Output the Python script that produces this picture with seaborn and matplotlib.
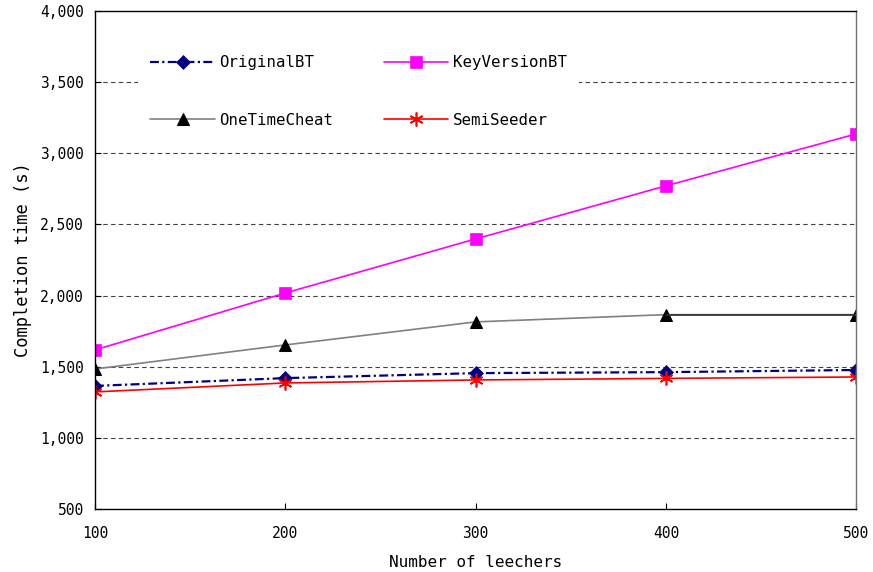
import numpy as np
import pandas as pd
import matplotlib as mpl
mpl.use("Agg")
import matplotlib.pyplot as plt
import seaborn as sns
from matplotlib.ticker import FuncFormatter

# data
leechers = [100, 200, 300, 400, 500]
original_bt = [1365, 1420, 1455, 1462, 1477]
key_version_bt = [1618, 2018, 2398, 2771, 3136]
one_time_cheat = [1484, 1653, 1815, 1866, 1866]
semi_seeder = [1323, 1386, 1407, 1418, 1428]

series = ["OriginalBT", "KeyVersionBT", "OneTimeCheat", "SemiSeeder"]
values = [original_bt, key_version_bt, one_time_cheat, semi_seeder]


def main():
    df = pd.concat([pd.DataFrame({"leechers": leechers, "time": v, "series": s})
                    for s, v in zip(series, values)], ignore_index=True)

    sns.set_style("ticks")
    plt.rcParams["font.family"] = ["DejaVu Sans Mono"]
    for k in ["text.color", "axes.labelcolor", "xtick.color", "ytick.color"]:
        plt.rcParams[k] = "black"

    fig = plt.figure(figsize=(8.73, 5.72), dpi=100)
    ax = fig.add_axes([0.1088, 0.1101, 0.872, 0.8707])

    palette = {"OriginalBT": "#000080", "KeyVersionBT": "#ff00ff",
               "OneTimeCheat": "#808080", "SemiSeeder": "#ff0000"}
    # seaborn won't mix filled/line-art markers, the asterisk is set afterwards
    markers = {"OriginalBT": "D", "KeyVersionBT": "s",
               "OneTimeCheat": "^", "SemiSeeder": "o"}
    dashes = {"OriginalBT": (4, 1.5, 1, 1.5), "KeyVersionBT": "",
              "OneTimeCheat": "", "SemiSeeder": ""}

    sns.lineplot(data=df, x="leechers", y="time", hue="series", style="series",
                 hue_order=series, style_order=series, palette=palette,
                 markers=markers, dashes=dashes, legend=False, ax=ax,
                 linewidth=1.2, markersize=8)

    lines = ax.lines[:4]
    for ln, s in zip(lines, series):
        ln.set_label(s)
        c = palette[s]
        if s == "OneTimeCheat":
            ln.set_markerfacecolor("black")
            ln.set_markeredgecolor("black")
            ln.set_markersize(9)
        elif s == "SemiSeeder":
            ln.set_marker((6, 2, 0))
            ln.set_markeredgecolor(c)
            ln.set_markeredgewidth(1.2)
            ln.set_markersize(10)
        else:
            ln.set_markerfacecolor(c)
            ln.set_markeredgecolor(c)
            ln.set_markeredgewidth(0.5)
        if s == "OriginalBT":
            ln.set_linewidth(1.6)
            ln.set_markersize(7)

    # the flat OneTimeCheat stretch (400-500) looks dark in the original
    sns.lineplot(x=leechers[3:], y=one_time_cheat[3:], color="#303030",
                 linewidth=1.2, ax=ax, zorder=2.5)

    # gridlines
    for yv in [1000, 1500, 2000, 2500, 3000, 3500]:
        ax.axhline(yv, color="#404040", lw=0.8, ls=(0, (4, 3)), zorder=0.5)

    ax.set_xlim(100, 500)
    ax.set_ylim(500, 4000)
    ax.set_xticks(leechers)
    ax.set_yticks(np.arange(500, 4001, 500))
    ax.yaxis.set_major_formatter(FuncFormatter(lambda v, p: f"{int(v):,}"))
    ax.tick_params(direction="in", labelsize=10.5, length=4, pad=8)
    ax.tick_params(axis="x", pad=12)
    for sp in ax.spines.values():
        sp.set_visible(True)
        sp.set_color("black")
        sp.set_linewidth(1.0)
    ax.spines["right"].set_color("#707070")

    ax.set_xlabel("Number of leechers", fontsize=11.5, labelpad=10)
    ax.set_ylabel("Completion time (s)", fontsize=12.3, labelpad=6)

    order = [0, 2, 1, 3]
    ax.legend([lines[i] for i in order], [series[i] for i in order],
              ncol=2, loc="upper left", bbox_to_anchor=(0.046, 0.952),
              fontsize=11.3, frameon=True, facecolor="white", edgecolor="none",
              framealpha=1, fancybox=False, handlelength=4.1,
              handletextpad=0.3, labelspacing=2.7, columnspacing=3.2,
              borderpad=0.8)

    plt.savefig("out.png", dpi=100)


if __name__ == "__main__":
    main()
